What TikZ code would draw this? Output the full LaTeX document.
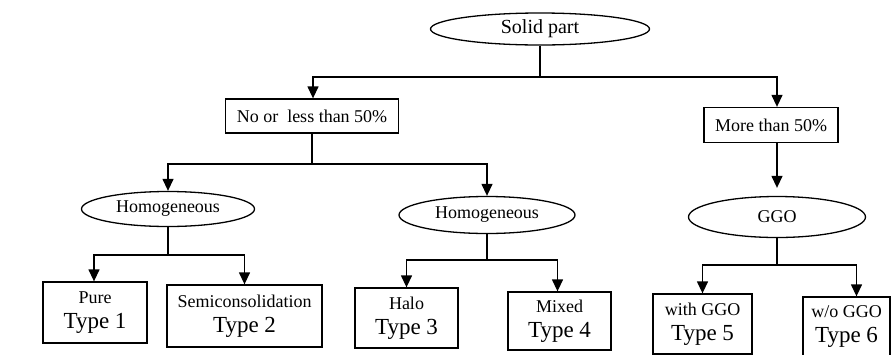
\documentclass[tikz,border=0pt]{standalone}
\usepackage{fontspec}
\setmainfont{Liberation Serif}
\usetikzlibrary{shapes.geometric,arrows.meta}
\newcommand{\sm}{\fontsize{18}{20}\selectfont}
\newcommand{\bg}{\fontsize{23}{25}\selectfont}
\begin{document}
\begin{tikzpicture}[x=1pt,y=-1pt,
  line width=1.3pt,
  ell/.style={draw,ellipse,inner sep=0pt,font=\sm},
  box/.style={draw,rectangle,inner sep=0pt,font=\sm},
  tbox/.style={draw,rectangle,inner sep=0pt,align=center,font=\bg},
  arr/.style={-{Triangle[length=12pt,width=11pt]}}]
\useasboundingbox (0,0) rectangle (892,354);
\node[ell,minimum width=219pt,minimum height=32pt,font=\fontsize{20}{22}\selectfont] (solid) at (540,29) {Solid part};
\node[box,minimum width=173pt,minimum height=34pt] (no) at (312,116) {No or\ \ less than 50\%};
\node[box,minimum width=134pt,minimum height=35pt] (more) at (771,125) {More than 50\%};
\node[ell,minimum width=173pt,minimum height=35pt] (hom1) at (168,209) {Homogeneous};
\node[ell,minimum width=176pt,minimum height=37pt] (hom2) at (487,215) {Homogeneous};
\node[ell,minimum width=177pt,minimum height=41pt] (ggo) at (777,217) {GGO};
\node[tbox,minimum width=104pt,minimum height=61pt] (t1) at (95,312.5) {{\sm Pure}\\{Type 1}};
\node[tbox,minimum width=155pt,minimum height=62pt] (t2) at (244.5,316) {{\sm Semiconsolidation}\\{Type 2}};
\node[tbox,minimum width=103pt,minimum height=60pt] (t3) at (406.5,318) {{\sm Halo}\\{Type 3}};
\node[tbox,minimum width=103pt,minimum height=58pt] (t4) at (559.5,321) {{\sm Mixed}\\{Type 4}};
\node[tbox,minimum width=99pt,minimum height=60pt] (t5) at (702.5,324) {{\sm with GGO}\\{Type 5}};
\node[tbox,minimum width=87pt,minimum height=60pt] (t6) at (846.5,327) {{\sm w/o GGO}\\{Type 6}};
% junctions
\coordinate (j0) at (solid.south |- 0,77);
\coordinate (j0l) at (313,77);
\coordinate (j0r) at (777,77);
\coordinate (j1) at (no.south |- 0,164);
\coordinate (j2) at (hom1.south |- 0,255);
\coordinate (j3) at (hom2.south |- 0,260);
\coordinate (j4) at (ggo.south |- 0,265);
\draw (solid.south) -- (j0);
\draw[arr] (j0) -- (j0l) -- (no.north -| j0l);
\draw[arr] (j0) -- (j0r) -- (more.north -| j0r);
\draw (no.south) -- (j1);
\draw[arr] (j1) -| (hom1.north);
\draw[arr] (j1) -| (hom2.north);
\draw[arr,shorten >=8pt] (more.south -| ggo.north) -- (ggo.north);
\draw (hom1.south) -- (j2);
\draw[arr] (j2) -| ([xshift=-1pt]t1.north);
\draw[arr] (j2) -| (t2.north);
\draw (hom2.south) -- (j3);
\draw[arr] (j3) -| (t3.north);
\draw[arr] (j3) -| ([xshift=-2pt]t4.north);
\draw (ggo.south) -- (j4);
\draw[arr] (j4) -| (t5.north);
\draw[arr] (j4) -| ([xshift=10pt]t6.north);
\end{tikzpicture}
\end{document}
